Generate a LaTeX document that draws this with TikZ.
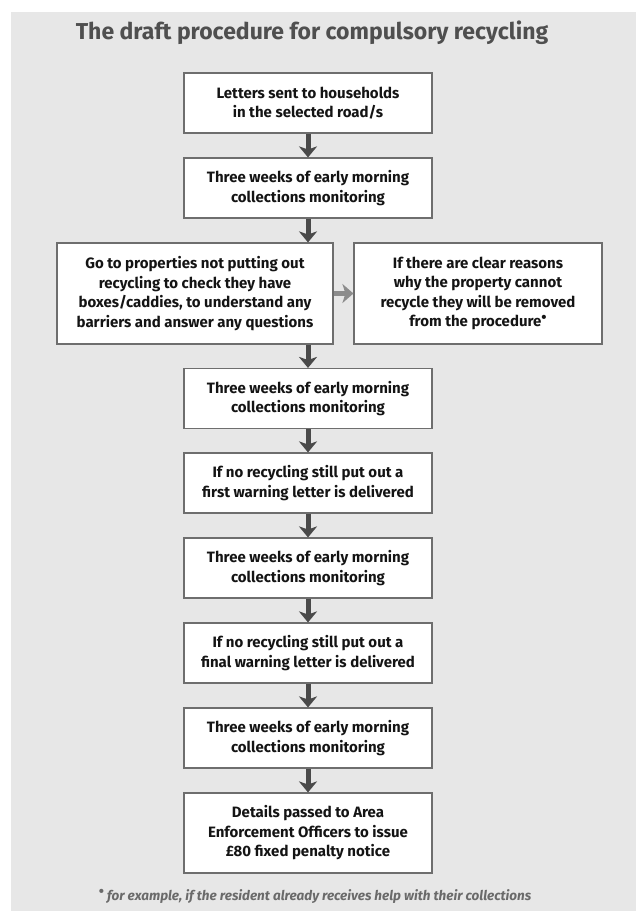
\documentclass[tikz,border=0pt]{standalone}
\usepackage{fontspec}
\setmainfont{Fira Sans}
\usetikzlibrary{arrows.meta}
\definecolor{panel}{HTML}{E7E7E7}
\definecolor{boxline}{HTML}{6E6E6E}
\definecolor{titlegray}{HTML}{4F4F4F}
\definecolor{downarrow}{HTML}{4A4A4A}
\definecolor{sidearrow}{HTML}{8C8C8C}
\definecolor{notegray}{HTML}{6A6A6A}
\newcommand{\starmark}{\raisebox{0.55ex}{\fontsize{15bp}{15bp}\selectfont\upshape •}}
\begin{document}
\begin{tikzpicture}[x=1bp,y=-1bp,
  stepbox/.style={draw=boxline, fill=white, line width=1.1bp, minimum width=248bp,
    minimum height=60bp, align=center, inner sep=0pt,
    font={\bfseries\fontsize{15bp}{19.5bp}\selectfont}, text=black!92},
  tallbox/.style={stepbox, minimum height=101bp},
  downflow/.style={draw=downarrow, line width=5bp,
    -{Stealth[length=11bp,width=18bp,inset=3bp]}},
  sideflow/.style={draw=sidearrow, line width=5.5bp,
    -{Stealth[length=11bp,width=19bp,inset=3bp]}}
]
\useasboundingbox (0,0) rectangle (636,911);
\fill[white] (0,0) rectangle (636,911);
\fill[panel] (11,12) rectangle (636,911);

\node[font={\bfseries\fontsize{23bp}{27bp}\selectfont}, text=titlegray] (title) at (312,33)
  {The draft procedure for compulsory recycling};

\node[stepbox] (b1) at (308,103) {Letters sent to households\\in the selected road/s};
\node[stepbox] (b2) at (308,188) {Three weeks of early morning\\collections monitoring};
\node[tallbox, minimum width=276bp] (s1) at (195,293.5)
  {Go to properties not putting out\\recycling to check they have\\boxes/caddies, to understand any\\barriers and answer any questions};
\node[tallbox] (s2) at (478,293.5)
  {If there are clear reasons\\why the property cannot\\recycle they will be removed\\from the procedure\starmark};
\node[stepbox] (b3) at (308,398.5) {Three weeks of early morning\\collections monitoring};
\node[stepbox] (b4) at (308,483) {If no recycling still put out a\\first warning letter is delivered};
\node[stepbox] (b5) at (308,568) {Three weeks of early morning\\collections monitoring};
\node[stepbox] (b6) at (308,653) {If no recycling still put out a\\final warning letter is delivered};
\node[stepbox] (b7) at (308,738) {Three weeks of early morning\\collections monitoring};
\node[stepbox, minimum height=80bp] (b8) at (308,833)
  {Details passed to Area\\Enforcement Officers to issue\\£80 fixed penalty notice};

\node[font={\bfseries\itshape\fontsize{13.5bp}{16bp}\selectfont}, text=notegray] (note) at (315,896)
  {\starmark\ for example, if the resident already receives help with their collections};

\draw[downflow] (b1.south) -- (b2.north);
\draw[downflow] (b2.south) -- (s1.north -| b2.south);
\draw[downflow] (s1.south -| b3.north) -- (b3.north);
\draw[downflow] (b3.south) -- (b4.north);
\draw[downflow] (b4.south) -- (b5.north);
\draw[downflow] (b5.south) -- (b6.north);
\draw[downflow] (b6.south) -- (b7.north);
\draw[downflow] (b7.south) -- (b8.north);
\draw[sideflow] (s1.east) -- (s2.west);
\end{tikzpicture}
\end{document}
